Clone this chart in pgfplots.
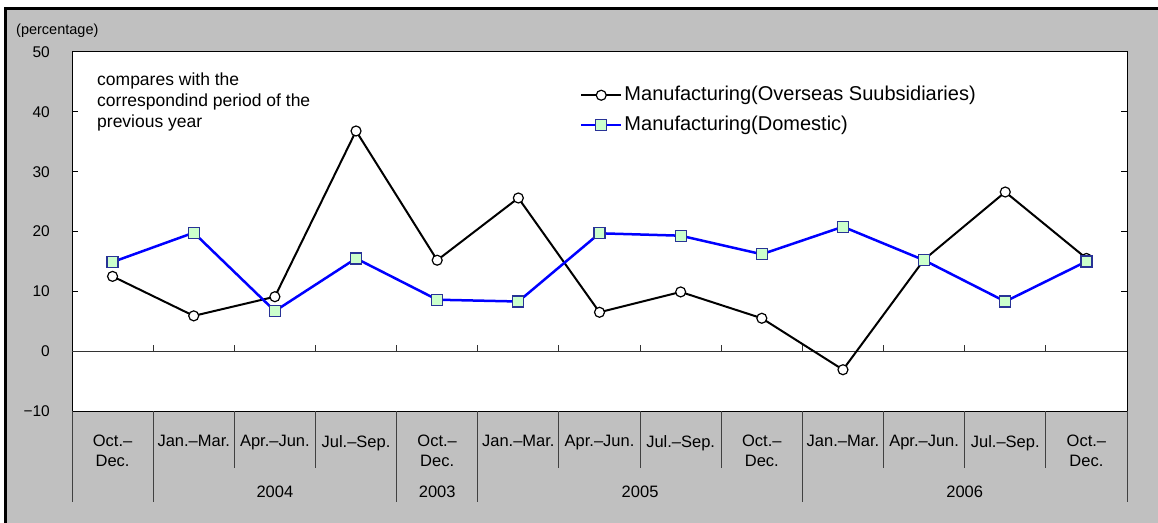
\documentclass[border=0pt]{standalone}
\usepackage{fontspec}
\setmainfont{Liberation Sans}
\usepackage{pgfplots}
\pgfplotsset{compat=1.18}
\definecolor{framegray}{RGB}{192,192,192}
\definecolor{sqfill}{RGB}{204,255,204}
\definecolor{sqdraw}{RGB}{40,50,150}
\newcommand\tickfont{\fontsize{15.5}{19}\selectfont}
\newcommand\catfont{\fontsize{16.5}{20}\selectfont}
\newcommand\legfont{\fontsize{20}{24}\selectfont}
\newcommand\notefont{\fontsize{17.5}{21}\selectfont}
\begin{document}
\begin{tikzpicture}[x=1pt,y=1pt]
\path[use as bounding box] (0,0) rectangle (1158,522);
\fill[white] (0,0) rectangle (1158,522);
\begin{scope}
\clip (0,0) rectangle (1158,522);
\fill[framegray] (5.5,-10) rectangle (1170,513.7);
\draw[line width=2.5pt] (5.5,-10) -- (5.5,513.7) -- (1170,513.7);
\end{scope}
\node[anchor=west, inner sep=0pt, font=\fontsize{14.5}{17}\selectfont] at (16pt,491pt) {(percentage)};
\begin{axis}[
  at={(72pt,111pt)}, anchor=south west,
  scale only axis, width=1055pt, height=359pt,
  xmin=-0.5, xmax=12.5, ymin=-10, ymax=50,
  axis background/.style={fill=white},
  axis line style={black, line width=1pt},
  xtick={0,...,12},
  xticklabels={{Oct.–\\Dec.},{Jan.–Mar.},{Apr.–Jun.},{Jul.–Sep.},{Oct.–\\Dec.},{Jan.–Mar.},{Apr.–Jun.},{Jul.–Sep.},{Oct.–\\Dec.},{Jan.–Mar.},{Apr.–Jun.},{Jul.–Sep.},{Oct.–\\Dec.}},
  xtick style={draw=none},
  xticklabel style={anchor=north, align=center, inner sep=0pt, yshift=-24pt, font=\catfont},
  ytick={-10,0,10,20,30,40,50},
  yticklabels={−10,0,10,20,30,40,50},
  yticklabel style={anchor=east, inner sep=0pt, xshift=-22pt, font=\tickfont},
  tick align=inside, major tick length=6pt,
  ytick style={black, line width=1pt},
  clip=false,
  legend image code/.code={\draw[mark repeat=2, mark phase=2, #1] plot coordinates {(0pt,0pt) (20pt,0pt) (40pt,0pt)};},
  legend cell align=left,
  legend style={draw=none, fill=none, at={(0.4815,0.906)}, anchor=north west, inner sep=0pt, outer sep=0pt, row sep=11pt, column sep=2pt, font=\legfont, nodes={inner sep=0pt, text height=14.5pt, text depth=4.5pt}},
]
\draw[black!80, line width=1.2pt] (axis cs:-0.5,0) -- (axis cs:12.5,0);
\pgfplotsinvokeforeach{0.5,1.5,...,11.5}{\draw[black!80, line width=1pt] (axis cs:#1,0) -- ++(0pt,6pt);}
\pgfplotsinvokeforeach{1.5,2.5,5.5,6.5,7.5,9.5,10.5,11.5}{\draw[black!75, line width=1pt] (axis cs:#1,-10) -- ++(0pt,-57pt);}
\pgfplotsinvokeforeach{-0.5,0.5,3.5,4.5,8.5,12.5}{\draw[black!75, line width=1pt] (axis cs:#1,-10) -- ++(0pt,-91pt);}
\node[font=\catfont, inner sep=0pt] at (axis cs:2,-10) [yshift=-81pt] {2004};
\node[font=\catfont, inner sep=0pt] at (axis cs:4,-10) [yshift=-81pt] {2003};
\node[font=\catfont, inner sep=0pt] at (axis cs:6.5,-10) [yshift=-81pt] {2005};
\node[font=\catfont, inner sep=0pt] at (axis cs:10.5,-10) [yshift=-81pt] {2006};
\addplot[black, line width=2pt, mark=*, mark size=5pt, mark options={fill=white, draw=black, line width=1.2pt}]
  coordinates {(0,12.5) (1,5.9) (2,9.1) (3,36.8) (4,15.2) (5,25.6) (6,6.5) (7,9.9) (8,5.5) (9,-3.1) (10,15.3) (11,26.6) (12,15.5)};
\addlegendentry{Manufacturing(Overseas Suubsidiaries)}
\addplot[blue, line width=2.5pt, mark=square*, mark size=5.5pt, mark options={fill=sqfill, draw=sqdraw, line width=1.2pt}]
  coordinates {(0,14.9) (1,19.8) (2,6.7) (3,15.5) (4,8.6) (5,8.3) (6,19.7) (7,19.3) (8,16.2) (9,20.8) (10,15.2) (11,8.3) (12,15.0)};
\addlegendentry{Manufacturing(Domestic)}
\end{axis}
\node[anchor=base west, inner sep=0pt, font=\notefont] at (97pt,436pt) {compares with the};
\node[anchor=base west, inner sep=0pt, font=\notefont] at (97pt,415pt) {correspondind period of the};
\node[anchor=base west, inner sep=0pt, font=\notefont] at (97pt,394pt) {previous year};
\end{tikzpicture}
\end{document}
